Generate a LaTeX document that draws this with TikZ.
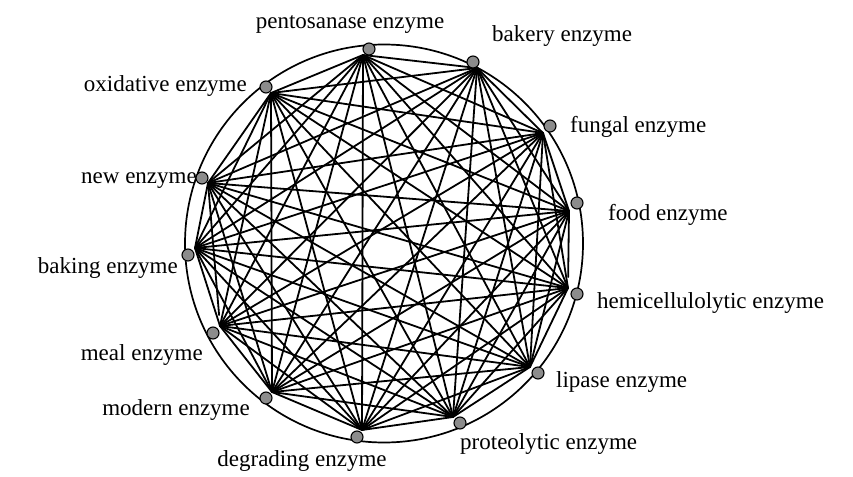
\documentclass[tikz,border=0pt]{standalone}
\usepackage{fontspec}
\setmainfont{Liberation Serif}
\begin{document}
\begin{tikzpicture}[x=1pt,y=-1pt,
  edge/.style={line width=1.8pt, line cap=round},
  ring/.style={line width=1.7pt},
  dot/.style={circle, draw=black, line width=1.1pt, fill=black!45, minimum size=12pt, inner sep=0pt},
  lbl/.style={inner sep=0pt, font=\fontsize{23}{27}\selectfont}]
\useasboundingbox (0,0) rectangle (853,476);
% hubs where connectors meet
\coordinate (hP) at (363,55);
\coordinate (hB) at (477,68);
\coordinate (hF) at (543,133);
\coordinate (hFo) at (569,211);
\coordinate (hH) at (568,288);
\coordinate (hL) at (530,367);
\coordinate (hPr) at (453,417);
\coordinate (hD) at (362,430);
\coordinate (hM) at (272,392);
\coordinate (hMe) at (220,326);
\coordinate (hBa) at (195,248);
\coordinate (hN) at (208,183);
\coordinate (hO) at (271,93);
\def\names{hP,hB,hF,hFo,hH,hL,hPr,hD,hM,hMe,hBa,hN,hO}
\foreach \a [count=\i] in \names {
  \foreach \b [count=\j] in \names {
    \ifnum\j>\i
      \ifnum\numexpr\i*100+\j\relax=405 \else
      \ifnum\numexpr\i*100+\j\relax=1012 \else
        \draw[edge] (\a) -- (\b);
      \fi\fi
    \fi
  }
}
% two connectors that stop short of their end
\draw[edge, shorten <=11pt] (hH) -- (hFo);
\draw[edge, shorten <=11pt] (hMe) -- (hN);
\node[circle, draw, ring, minimum size=398pt, inner sep=0pt] (ringc) at (384,243.5) {};
% dots
\node[dot] (P) at (369,49) {};
\node[dot] (B) at (473,62) {};
\node[dot] (F) at (550,126) {};
\node[dot] (Fo) at (577,203) {};
\node[dot] (H) at (577,294) {};
\node[dot] (L) at (538,373) {};
\node[dot] (Pr) at (460,423) {};
\node[dot] (D) at (357,437) {};
\node[dot] (M) at (266,398) {};
\node[dot] (Me) at (213,333) {};
\node[dot] (Ba) at (188,255) {};
\node[dot] (N) at (202,178) {};
\node[dot] (O) at (266,87) {};
% labels
\node[lbl, anchor=mid] (tP) at (350,26) {pentosanase enzyme};
\node[lbl, anchor=mid west] (tB) at (492,39) {bakery enzyme};
\node[lbl, anchor=mid west] (tF) at (570,130) {fungal enzyme};
\node[lbl, anchor=mid west] (tFo) at (608,218) {food enzyme};
\node[lbl, anchor=mid west] (tH) at (597,306) {hemicellulolytic enzyme};
\node[lbl, anchor=mid west] (tL) at (556,385) {lipase enzyme};
\node[lbl, anchor=mid west] (tPr) at (460,447) {proteolytic enzyme};
\node[lbl, anchor=mid] (tD) at (302,464) {degrading enzyme};
\node[lbl, anchor=mid east] (tM) at (250,413) {modern enzyme};
\node[lbl, anchor=mid east] (tMe) at (203,358) {meal enzyme};
\node[lbl, anchor=mid east] (tBa) at (178,271) {baking enzyme};
\node[lbl, anchor=mid east] (tN) at (197,181) {new enzyme};
\node[lbl, anchor=mid east] (tO) at (247,89) {oxidative enzyme};
\end{tikzpicture}
\end{document}
